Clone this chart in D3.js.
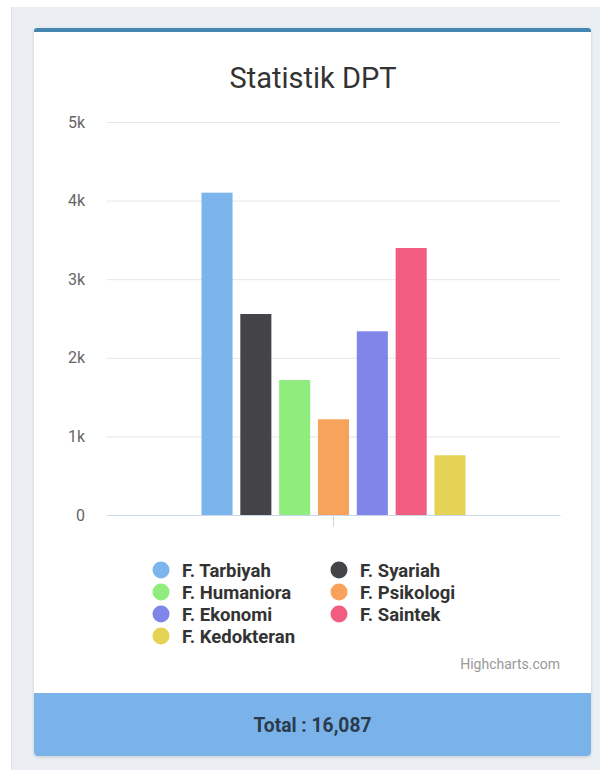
<!DOCTYPE html>
<html>
<head>
<meta charset="utf-8">
<script src="https://cdn.jsdelivr.net/npm/d3@7"></script>
<style>
  html, body { margin: 0; padding: 0; background: #fff; }
  svg { display: block; }
</style>
</head>
<body>
<svg id="chart" width="600" height="771"></svg>
<script>
// chart data
const categories = ["DPT"];
const seriesNames = ["F. Tarbiyah", "F. Syariah", "F. Humaniora", "F. Psikologi",
                     "F. Ekonomi", "F. Saintek", "F. Kedokteran"];
const seriesValues = [4101, 2557, 1717, 1218, 2337, 3397, 760];
const seriesColors = ["#7cb5ec", "#434348", "#90ed7d", "#f7a35c",
                      "#8085e9", "#f15c80", "#e4d354"];
const yTicks = [0, 1000, 2000, 3000, 4000, 5000];

let chart = d3.select("#chart");
let chart_width = 600, chart_height = 771;

// page background and card
chart.append("rect")
    .attr("x", 11).attr("y", 7)
    .attr("width", chart_width - 11).attr("height", chart_height - 8)
    .attr("fill", "#ebeef3");
chart.append("line")
    .attr("x1", 11.5).attr("x2", 11.5).attr("y1", 7).attr("y2", chart_height - 1)
    .attr("stroke", "#dde1e7");

let defs = chart.append("defs");
let filter = defs.append("filter").attr("id", "shadow")
    .attr("x", "-5%").attr("y", "-5%").attr("width", "110%").attr("height", "110%");
filter.append("feDropShadow")
    .attr("dx", 0).attr("dy", 1).attr("stdDeviation", 1.5)
    .attr("flood-color", "#000").attr("flood-opacity", 0.15);

const card = {x: 34, y: 28, w: 557, h: 728};
chart.append("rect")
    .attr("x", card.x).attr("y", card.y)
    .attr("width", card.w).attr("height", card.h)
    .attr("rx", 4)
    .attr("fill", "#fff")
    .attr("filter", "url(#shadow)");

// top border of the card
chart.append("path")
    .attr("d", `M${card.x},${card.y + 4} v-1 a3,3 0 0 1 3,-3 h${card.w - 6} a3,3 0 0 1 3,3 v1 z`)
    .attr("fill", "#4587b2");

// footer
const footerTop = 693;
chart.append("path")
    .attr("d", `M${card.x},${footerTop} h${card.w} v${card.y + card.h - footerTop - 4} a4,4 0 0 1 -4,4 h${-(card.w - 8)} a4,4 0 0 1 -4,-4 z`)
    .attr("fill", "#7ab3ea");
chart.append("text")
    .text("Total : " + d3.format(",")(d3.sum(seriesValues)))
    .attr("x", card.x + card.w / 2)
    .attr("y", 732)
    .attr("text-anchor", "middle")
    .attr("textLength", 118)
    .attr("lengthAdjust", "spacingAndGlyphs")
    .attr("font-family", "Roboto, sans-serif")
    .attr("font-weight", 700)
    .attr("font-size", 21)
    .attr("fill", "#2c3b4c");

// title
chart.append("text")
    .text("Statistik DPT")
    .attr("x", 313)
    .attr("y", 88)
    .attr("text-anchor", "middle")
    .attr("font-family", "Roboto, sans-serif")
    .attr("font-size", 29)
    .attr("fill", "#333333");

// scales
const plotLeft = 107, plotRight = 560, plotTop = 122, plotBottom = 515;

let y = d3.scaleLinear()
    .domain([0, 5000])
    .range([plotBottom, plotTop]);

let x0 = d3.scaleBand()
    .domain(categories)
    .range([plotLeft, plotRight]);

let bw = x0.bandwidth();
let x1 = d3.scaleBand()
    .domain(seriesNames)
    .range([x0(categories[0]) + bw * 0.2, x0(categories[0]) + bw * 0.8])
    .paddingInner(0.2)
    .paddingOuter(0.1);

// y axis with grid lines
let yAxis = d3.axisLeft(y)
    .tickValues(yTicks)
    .tickSize(-(plotRight - plotLeft))
    .tickPadding(22)
    .tickFormat(d => d === 0 ? "0" : (d / 1000) + "k");

let yAxisGroup = chart.append("g")
    .attr("transform", `translate(${plotLeft},0)`)
    .call(yAxis);
yAxisGroup.select(".domain").remove();
yAxisGroup.selectAll(".tick line").attr("stroke", "#e6e6e6");
yAxisGroup.selectAll(".tick text")
    .attr("font-family", "Roboto, sans-serif")
    .attr("font-size", 16)
    .attr("fill", "#666666");

// bars
chart.append("g")
    .selectAll("rect")
    .data(seriesValues)
    .enter()
    .append("rect")
    .attr("x", (d, i) => x1(seriesNames[i]))
    .attr("y", d => y(d))
    .attr("width", x1.bandwidth())
    .attr("height", d => y(0) - y(d))
    .attr("fill", (d, i) => seriesColors[i]);

// x axis
let xAxis = d3.axisBottom(x0)
    .tickSize(12)
    .tickSizeOuter(0)
    .tickFormat("");
let xAxisGroup = chart.append("g")
    .attr("transform", `translate(0,${plotBottom})`)
    .call(xAxis);
xAxisGroup.select(".domain").attr("stroke", "#ccd6eb");
xAxisGroup.selectAll(".tick line").attr("stroke", "#ccd6eb");

// legend
const legendCols = [161, 339];
const legendRows = [570, 592, 614, 636];
let legend = chart.append("g")
    .selectAll("g")
    .data(seriesNames)
    .enter()
    .append("g")
    .attr("transform", (d, i) => `translate(${legendCols[i % 2]},${legendRows[Math.floor(i / 2)]})`);
legend.append("circle")
    .attr("r", 8.5)
    .attr("fill", (d, i) => seriesColors[i]);
legend.append("text")
    .text(d => d)
    .attr("x", 21)
    .attr("y", 6.5)
    .attr("font-family", "Roboto, sans-serif")
    .attr("font-weight", 700)
    .attr("font-size", 18.5)
    .attr("fill", "#333333");

// credits
chart.append("text")
    .text("Highcharts.com")
    .attr("x", 560)
    .attr("y", 669)
    .attr("text-anchor", "end")
    .attr("font-family", "Roboto, sans-serif")
    .attr("font-size", 14)
    .attr("fill", "#999999");
</script>
</body>
</html>
